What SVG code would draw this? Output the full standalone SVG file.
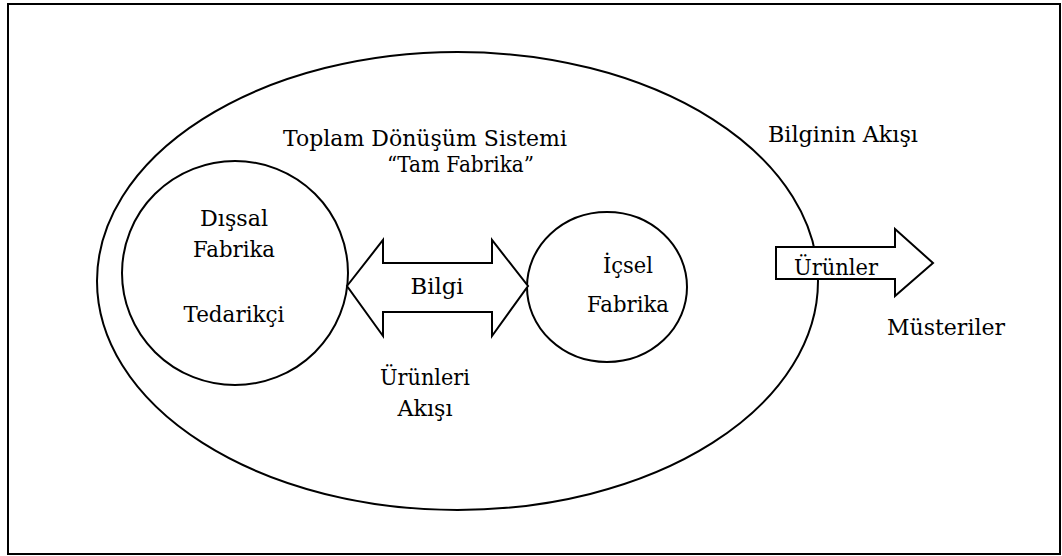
<svg xmlns="http://www.w3.org/2000/svg" width="1062" height="556" viewBox="0 0 1062 556">
  <style>
    .shape { fill: none; stroke: #000; stroke-width: 2; }
    .arrow { fill: #fff; stroke: #000; stroke-width: 2; stroke-linejoin: miter; }
    .t { font-family: 'DejaVu Serif', 'Liberation Serif', serif; fill: #000; font-size: 23px; }
    .mid { text-anchor: middle; }
  </style>
  <rect width="1062" height="556" fill="#fff"/>
  <!-- page frame -->
  <rect id="frame" class="shape" x="8" y="4" width="1052" height="550"/>

  <!-- total transformation system -->
  <g id="system">
    <ellipse class="shape" cx="457.5" cy="281" rx="360.5" ry="229"/>
    <text class="t" x="283" y="146" textLength="284" lengthAdjust="spacingAndGlyphs">Toplam Dönüşüm Sistemi</text>
    <text class="t" x="387" y="172" textLength="147" lengthAdjust="spacingAndGlyphs">“Tam Fabrika”</text>
  </g>

  <!-- external factory / supplier -->
  <g id="external">
    <ellipse class="shape" cx="235" cy="273" rx="113" ry="112"/>
    <text class="t mid" x="234" y="226" textLength="68" lengthAdjust="spacingAndGlyphs">Dışsal</text>
    <text class="t mid" x="234" y="257" textLength="82" lengthAdjust="spacingAndGlyphs">Fabrika</text>
    <text class="t mid" x="234" y="322" textLength="101" lengthAdjust="spacingAndGlyphs">Tedarikçi</text>
  </g>

  <!-- internal factory -->
  <g id="internal">
    <ellipse class="shape" cx="607" cy="287" rx="80" ry="75"/>
    <text class="t mid" x="628" y="273" textLength="50" lengthAdjust="spacingAndGlyphs">İçsel</text>
    <text class="t mid" x="628" y="312" textLength="82" lengthAdjust="spacingAndGlyphs">Fabrika</text>
  </g>

  <g id="connectors">
    <!-- two-way information arrow -->
    <polygon id="info-arrow" class="arrow" points="347,286 383,240 383,263 492,263 492,240 528,286 492,336 492,312 383,312 383,336"/>
    <!-- products out to customers -->
    <polygon id="products-arrow" class="arrow" points="776,247 895,247 895,229 933,263 895,296 895,279 776,279"/>
  </g>

  <g id="labels">
    <text class="t mid" x="437" y="294" textLength="53" lengthAdjust="spacingAndGlyphs">Bilgi</text>
    <text class="t mid" x="425" y="385" textLength="90" lengthAdjust="spacingAndGlyphs">Ürünleri</text>
    <text class="t mid" x="425" y="416" textLength="55" lengthAdjust="spacingAndGlyphs">Akışı</text>
    <text class="t" x="768" y="142" textLength="150" lengthAdjust="spacingAndGlyphs">Bilginin Akışı</text>
    <text class="t" x="794" y="275" textLength="84" lengthAdjust="spacingAndGlyphs">Ürünler</text>
    <text class="t" x="887" y="335" font-size="25" textLength="118" lengthAdjust="spacingAndGlyphs">Müsteriler</text>
  </g>
</svg>
